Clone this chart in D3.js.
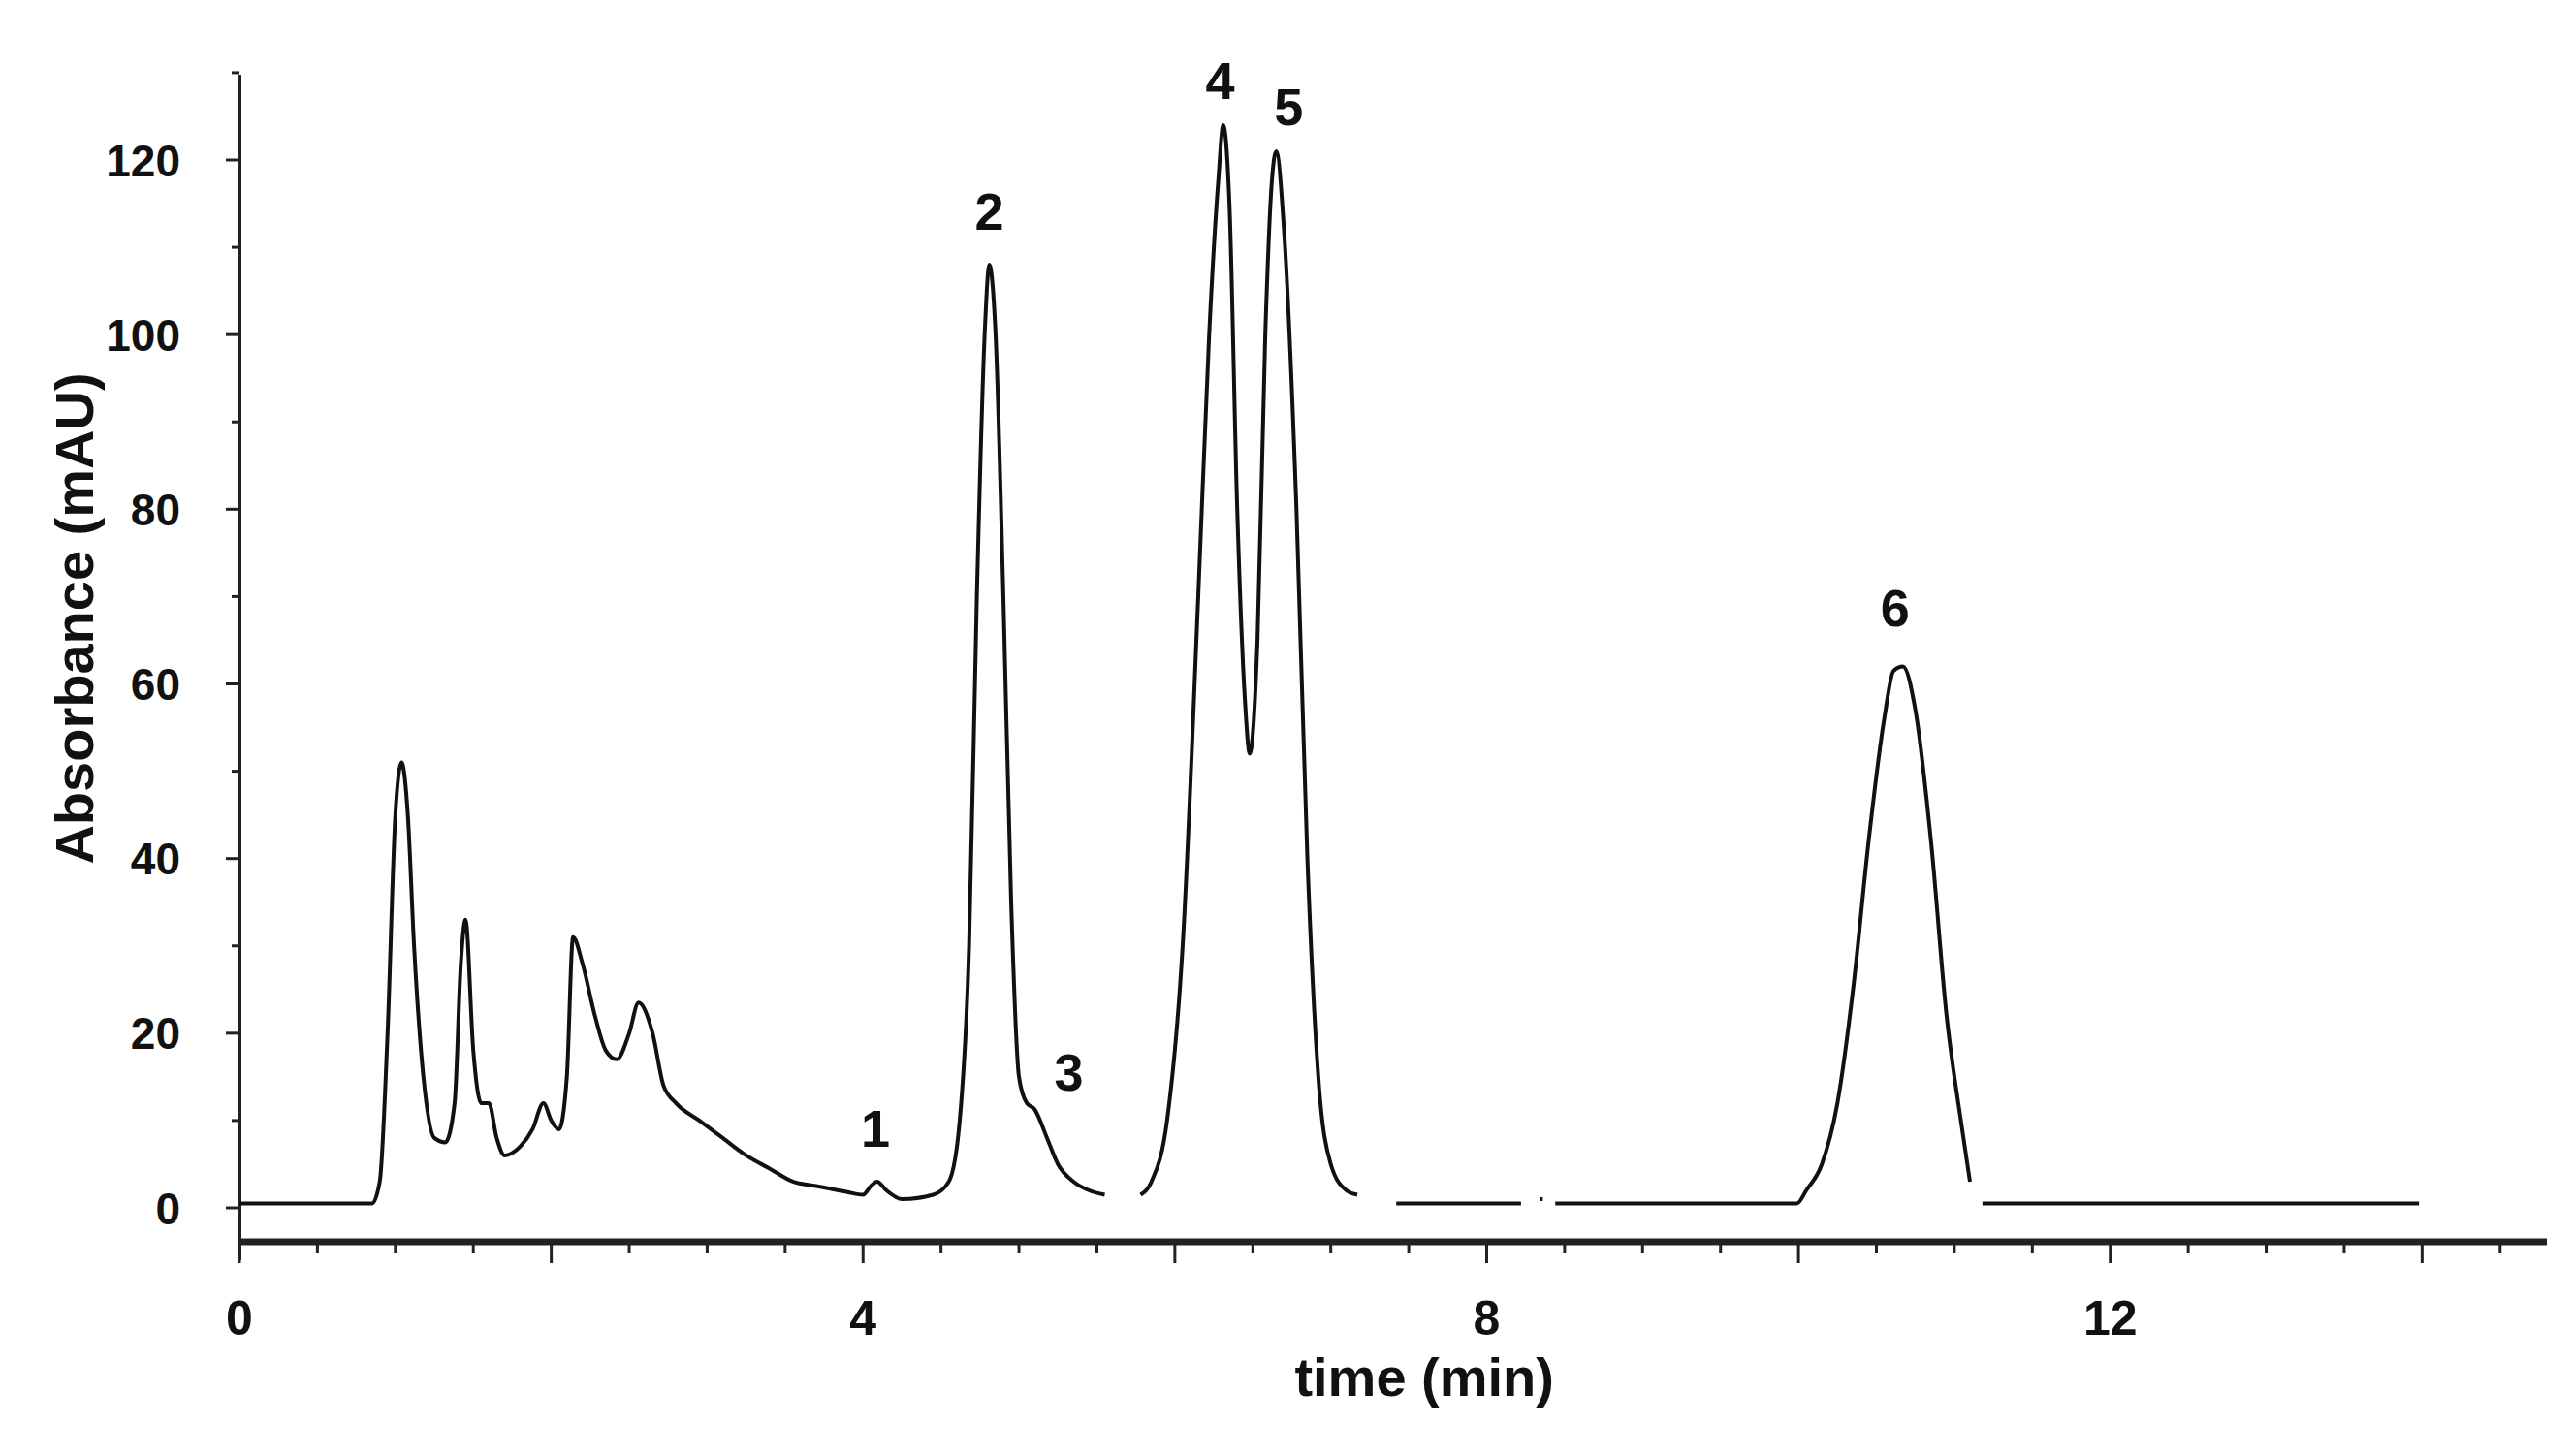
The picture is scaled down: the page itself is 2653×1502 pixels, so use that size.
<!DOCTYPE html>
<html>
<head>
<meta charset="utf-8">
<script src="https://cdn.jsdelivr.net/npm/d3@7"></script>
<style>
  body { margin: 0; background: #fff; }
  text { font-family: "Liberation Sans Narrow", "Arial Narrow", "Liberation Sans", sans-serif; font-weight: bold; fill: #111; }
</style>
</head>
<body>
<svg id="chart"></svg>
<script>
// chromatogram trace (null = gap in the recorded line)
const times = [0, 0.85, 0.9, 0.95, 1.0, 1.04, 1.08, 1.12, 1.18, 1.25, 1.32, 1.38, 1.42, 1.45, 1.5, 1.55, 1.6, 1.65, 1.7, 1.8, 1.88, 1.95, 2.0, 2.05, 2.1, 2.14, 2.2, 2.28, 2.35, 2.42, 2.5, 2.56, 2.65, 2.72, 2.8, 2.95, 3.1, 3.25, 3.4, 3.55, 3.7, 3.9, 4.0, 4.05, 4.09, 4.15, 4.25, 4.45, 4.55, 4.62, 4.68, 4.73, 4.78, 4.81, 4.85, 4.9, 4.95, 5.0, 5.05, 5.1, 5.18, 5.25, 5.35, 5.45, 5.55, 5.65,
  5.78, 5.85, 5.95, 6.05, 6.15, 6.22, 6.28, 6.31, 6.35, 6.4, 6.45, 6.48, 6.53, 6.58, 6.62, 6.65, 6.7, 6.78, 6.85, 6.92, 7.0, 7.1, 7.17, 7.3,
  7.42, 8.22, 8.3, 8.34, 8.36, 8.4, 8.44, 9.99, 10.05, 10.15, 10.25, 10.35, 10.45, 10.55, 10.61, 10.67, 10.75, 10.85, 10.95, 11.05, 11.1, 11.15,
  11.18, 13.98];
const absorbance = [0.5, 0.5, 3, 20, 45, 51, 45, 30, 15, 8, 7.5, 12, 28, 33, 18, 12, 12, 8, 6, 7, 9, 12, 10, 9, 15, 31, 28, 22, 18, 17, 20, 23.5, 20, 14, 12, 10, 8, 6, 4.5, 3, 2.5, 1.8, 1.5, 2.5, 3, 2, 1, 1.5, 3, 10, 30, 70, 100, 108, 100, 70, 35, 15, 12, 11.3, 8, 5, 3, 2, 1.5, null,
  1.5, 3, 10, 30, 70, 100, 118, 124, 115, 80, 58, 52, 65, 100, 117, 121, 112, 80, 40, 15, 5, 2, 1.5, null,
  0.5, 0.5, null, 1, 1, null, 0.5, 0.5, 2, 5, 12, 25, 42, 56, 61.5, 62, 57, 42, 22, 9, 3, null,
  0.5, 0.5];

const peakLabels = ["1", "2", "3", "4", "5", "6"];
const peakTimes = [4.08, 4.81, 5.32, 6.29, 6.73, 10.62];
const peakLabelY = [7, 112, 13.4, 127, 124, 66.6];

const yTicks = [0, 20, 40, 60, 80, 100, 120];
const xTicks = [0, 4, 8, 12];

const width = 2653, height = 1502;
const svg = d3.select("#chart").attr("width", width).attr("height", height);

const x = d3.scaleLinear().domain([0, 14.8]).range([247, 2627]);
const y = d3.scaleLinear().domain([0, 120]).range([1246, 165]);

// x axis
const xAxisY = 1281;
const xMinor = d3.range(0, 14.8, 0.5);
svg.append("line").attr("x1", x(0)).attr("x2", x(14.8)).attr("y1", xAxisY).attr("y2", xAxisY)
  .attr("stroke", "#222").attr("stroke-width", 7);
svg.selectAll(".xt").data(xMinor).enter().append("line")
  .attr("x1", d => x(d)).attr("x2", d => x(d))
  .attr("y1", xAxisY).attr("y2", d => xAxisY + (d % 2 === 0 ? 22 : 12))
  .attr("stroke", "#222").attr("stroke-width", 3);
svg.selectAll(".xl").data(xTicks).enter().append("text")
  .attr("x", d => x(d)).attr("y", 1377).attr("text-anchor", "middle")
  .style("font-size", "50px").text(d => d);

// y axis
svg.append("line").attr("x1", x(0)).attr("x2", x(0)).attr("y1", 77).attr("y2", 1300)
  .attr("stroke", "#222").attr("stroke-width", 4);
svg.selectAll(".yt").data(d3.range(0, 131, 10)).enter().append("line")
  .attr("x1", x(0)).attr("x2", d => x(0) - (d % 20 === 0 ? 14 : 8))
  .attr("y1", d => y(d)).attr("y2", d => y(d))
  .attr("stroke", "#222").attr("stroke-width", 3);
svg.selectAll(".yl").data(yTicks).enter().append("text")
  .attr("x", 186).attr("y", d => y(d)).attr("dy", "0.36em").attr("text-anchor", "end")
  .style("font-size", "46px").text(d => d);

// axis titles
svg.append("text").attr("x", x(7.6)).attr("y", 1440).attr("text-anchor", "middle")
  .style("font-size", "56px").text("time (min)");
svg.append("text").attr("transform", "translate(96,638) rotate(-90)").attr("text-anchor", "middle")
  .style("font-size", "56px").text("Absorbance (mAU)");

// trace
const pts = times.map((t, i) => ({ t, v: absorbance[i] }));
const line = d3.line().defined(d => d.v !== null).x(d => x(d.t)).y(d => y(d.v)).curve(d3.curveMonotoneX);
svg.append("path").datum(pts).attr("fill", "none").attr("stroke", "#111")
  .attr("stroke-width", 4).attr("d", line);

// peak labels
svg.selectAll(".pl").data(peakLabels).enter().append("text")
  .attr("x", (d, i) => x(peakTimes[i])).attr("y", (d, i) => y(peakLabelY[i]))
  .attr("text-anchor", "middle").style("font-size", "54px").text(d => d);
</script>
</body>
</html>
